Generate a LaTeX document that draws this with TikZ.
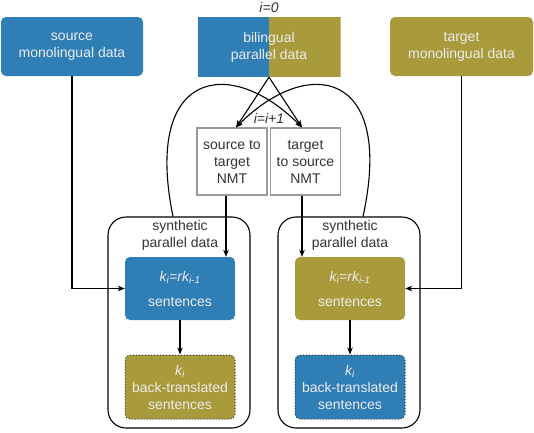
\documentclass[tikz,border=0pt]{standalone}
\usepackage{fontspec}
\setmainfont{Liberation Sans}
\usetikzlibrary{arrows.meta}
\definecolor{blueC}{HTML}{2F7EB6}
\definecolor{oliveC}{HTML}{A99A3C}
\definecolor{txtC}{HTML}{333333}
\definecolor{grayC}{HTML}{9A9A9A}
\begin{document}
\begin{tikzpicture}[x=1pt,y=-1pt,
  every node/.style={font=\fontsize{14}{17}\selectfont, align=center, inner sep=0pt},
  colbox/.style={rounded corners=5pt, text=white!93!black, minimum width=#1},
  nmtbox/.style={draw=grayC, line width=1.2pt, text=txtC, minimum width=70pt, minimum height=67pt},
  container/.style={draw=black, line width=1.1pt, rounded corners=18pt, minimum width=142pt, minimum height=211pt},
  lbl/.style={text=txtC},
  arr/.style={-{Stealth[length=7pt,width=5.5pt]}, line width=1.1pt, black}
]
\useasboundingbox (0,0) rectangle (534,432);

% top boxes
\node[colbox=142pt, fill=blueC, minimum height=59pt] (srcM) at (72,46.5) {source\\monolingual data};
\node[text=white!93!black, minimum width=143pt, minimum height=60pt,
  path picture={
    \fill[blueC] (path picture bounding box.north west) rectangle (path picture bounding box.south);
    \fill[oliveC] (path picture bounding box.north) rectangle (path picture bounding box.south east);
  }] (bil) at (269,47) {bilingual\\parallel data};
\node[colbox=143pt, fill=oliveC, minimum height=59pt] (tgtM) at (461.5,46.5) {target\\monolingual data};
\node[lbl, font=\fontsize{14}{17}\selectfont\itshape] (i0) at (269,7) {i=0};

% NMT boxes
\node[nmtbox] (nmtL) at (232,161.5) {source to\\target\\NMT};
\node[nmtbox] (nmtR) at (305.5,161.5) {target\\to source\\NMT};
\node[lbl, font=\fontsize{14}{17}\selectfont\itshape] (inc) at (269,118) {i=i+1};

% containers
\node[container] (cL) at (179,322.5) {};
\node[container] (cR) at (349,322.5) {};
\node[lbl] (tL) at (180,235) {synthetic\\parallel data};
\node[lbl] (tR) at (350,235) {synthetic\\parallel data};

% inner boxes
\node[colbox=110pt, fill=blueC, minimum height=63pt] (sL) at (180,288.5) {\itshape k\textsubscript{i}=rk\textsubscript{i-1}\\[8pt]sentences};
\node[colbox=110pt, fill=oliveC, minimum height=64pt, draw=txtC, dotted, line width=1pt] (bL) at (180,387) {\itshape k\textsubscript{i}\\back-translated\\sentences};
\node[colbox=110pt, fill=oliveC, minimum height=63pt] (sR) at (350,288.5) {\itshape k\textsubscript{i}=rk\textsubscript{i-1}\\[8pt]sentences};
\node[colbox=110pt, fill=blueC, minimum height=64pt, draw=txtC, dotted, line width=1pt] (bR) at (350,387) {\itshape k\textsubscript{i}\\back-translated\\sentences};

% connectors
\draw[arr] (bil.south) -- ([xshift=4pt]nmtL.north);
\draw[arr] (bil.south) -- ([xshift=-3.5pt]nmtR.north);
\draw[arr] ([xshift=-6pt]cL.north) .. controls (143,70) and (230,55) .. ([xshift=-3.5pt]nmtR.north);
\draw[arr] ([xshift=14pt]cR.north) .. controls (395,70) and (308,55) .. ([xshift=4pt]nmtL.north);
\draw[arr] ([xshift=-6pt]nmtL.south) -- ([xshift=-6pt]nmtL.south |- sL.north);
\draw[arr] ([xshift=-3.5pt]nmtR.south) -- ([xshift=-3.5pt]nmtR.south |- sR.north);
\draw[arr] (srcM.south) |- (sL.west);
\draw[arr] (tgtM.south) |- (sR.east);
\draw[arr] (sL.south) -- (bL.north);
\draw[arr] (sR.south) -- (bR.north);
\end{tikzpicture}
\end{document}
